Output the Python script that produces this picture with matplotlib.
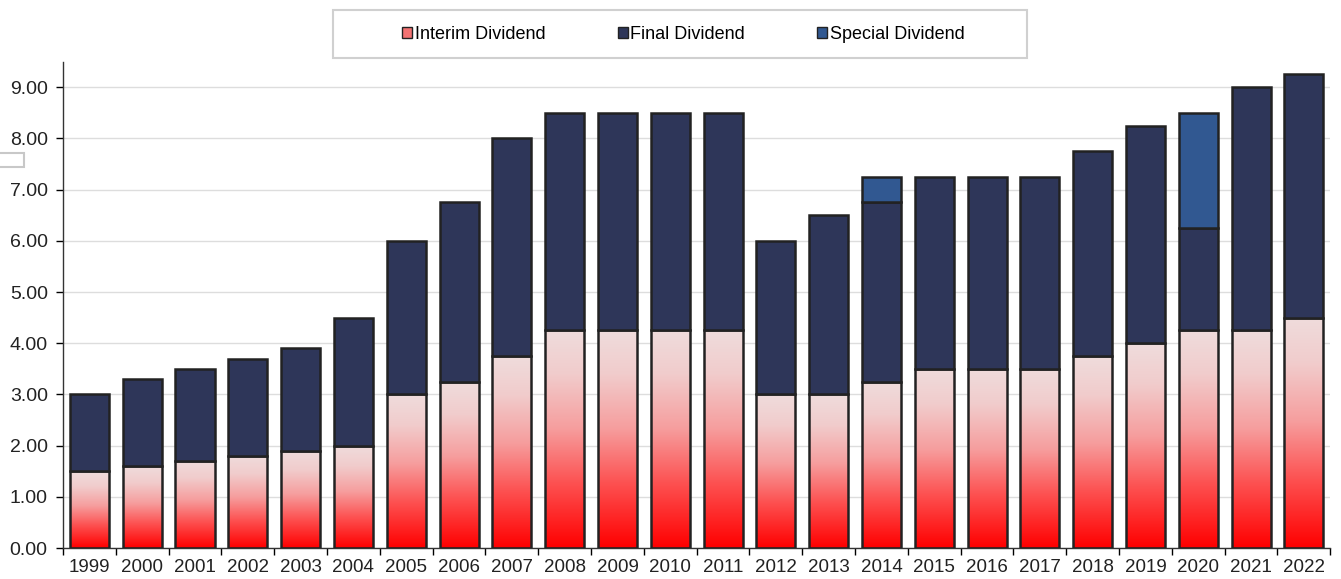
import numpy as np
import matplotlib
matplotlib.use("Agg")
import matplotlib.pyplot as plt
from matplotlib.colors import LinearSegmentedColormap
from matplotlib.patches import Rectangle, Patch

plt.rcParams['font.family'] = ['Liberation Sans', 'DejaVu Sans']

years = [str(y) for y in range(1999, 2023)]
interim = [1.5, 1.6, 1.7, 1.8, 1.9, 2.0, 3.0, 3.25, 3.75, 4.25, 4.25, 4.25, 4.25,
           3.0, 3.0, 3.25, 3.5, 3.5, 3.5, 3.75, 4.0, 4.25, 4.25, 4.5]
final = [1.5, 1.7, 1.8, 1.9, 2.0, 2.5, 3.0, 3.5, 4.25, 4.25, 4.25, 4.25, 4.25,
         3.0, 3.5, 3.5, 3.75, 3.75, 3.75, 4.0, 4.25, 2.0, 4.75, 4.75]
special = [0, 0, 0, 0, 0, 0, 0, 0, 0, 0, 0, 0, 0,
           0, 0, 0.5, 0, 0, 0, 0, 0, 2.25, 0, 0]

c_final = '#2e3659'
c_special = '#315891'
edge = '#222222'

fig = plt.figure(figsize=(13.41, 5.79), dpi=100)
ax = fig.add_axes([0.047, 0.0535, 0.945, 0.84])

x = np.arange(len(years))
w = 0.74
interim = np.array(interim)
final = np.array(final)
special = np.array(special)

# gradient for interim bars: red at bottom fading to pale pink at top
cmap = LinearSegmentedColormap.from_list('grad', [(0, '#ff0000'), (0.3, '#fd5252'),
                                                   (0.55, '#f69e9e'), (0.8, '#f1cccc'),
                                                   (1, '#efdcdc')])
grad = np.linspace(0, 1, 256).reshape(-1, 1)
bars = ax.bar(x, interim, w, color='none', edgecolor=edge, linewidth=1.8, zorder=3)
for b, h in zip(bars, interim):
    im = ax.imshow(grad, cmap=cmap, origin='lower', aspect='auto',
                   extent=[b.get_x(), b.get_x() + w, 0, h], zorder=2)
    im.set_clip_path(b)
ax.bar(x, final, w, bottom=interim, color=c_final, edgecolor=edge, linewidth=1.8, zorder=3)
mask = special > 0
ax.bar(x[mask], special[mask], w, bottom=(interim + final)[mask], color=c_special,
       edgecolor=edge, linewidth=1.8, zorder=3)

ax.set_xlim(-0.5, len(years) - 0.5)
ax.set_ylim(0, 9.5)
ax.set_yticks(np.arange(0, 10, 1.0))
ax.set_yticklabels([f'{v:.2f}' for v in np.arange(0, 10, 1.0)], fontsize=14, color='#222222')
ax.set_xticks(x)
ax.set_xticklabels(years, fontsize=13.5, color='#222222')
ax.set_xticks(np.arange(-0.5, len(years)), minor=True)
ax.tick_params(axis='x', which='major', length=0, pad=8)
ax.tick_params(axis='x', which='minor', length=5, direction='out', width=1)
ax.tick_params(axis='y', length=5, direction='out', width=1, pad=6)
ax.grid(axis='y', color='#dddddd', linewidth=1, zorder=0)
ax.set_axisbelow(True)
for s in ['top', 'right']:
    ax.spines[s].set_visible(False)
for s in ['left', 'bottom']:
    ax.spines[s].set_color('#333333')
    ax.spines[s].set_linewidth(1)

handles = [Patch(facecolor='#f37272', edgecolor=edge, label='Interim Dividend'),
           Patch(facecolor=c_final, edgecolor=edge, label='Final Dividend'),
           Patch(facecolor=c_special, edgecolor=edge, label='Special Dividend')]
leg = fig.legend(handles=handles, loc='center', bbox_to_anchor=(0.5097, 0.941), ncol=3,
                 frameon=False, fontsize=13, handlelength=0.55,
                 handleheight=0.55, handletextpad=0.15, columnspacing=4.0)

# legend frame
fig.patches.append(Rectangle((333 / 1341, 1 - 58 / 579), 694 / 1341, 48 / 579,
                             transform=fig.transFigure, fill=False,
                             edgecolor='#d0d0d0', linewidth=1.5))

# stray box fragment at left edge
fig.patches.append(Rectangle((-0.01, 1 - 167 / 579), 0.028, 14 / 579, transform=fig.transFigure,
                             fill=False, edgecolor='#c8c8c8', linewidth=1.5))

fig.savefig('out.png', dpi=100)
